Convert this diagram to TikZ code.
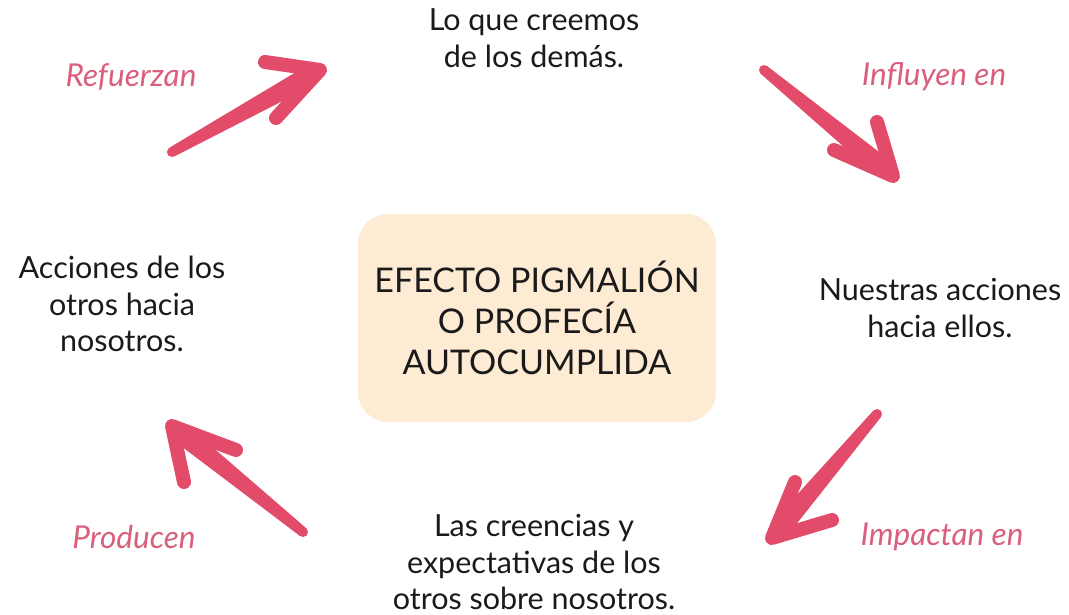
\documentclass[tikz,border=0pt]{standalone}
\usepackage{fontspec}
\usetikzlibrary{calc}
\setmainfont{Lato}
\definecolor{arrowred}{HTML}{E24B69}
\definecolor{labelpink}{HTML}{DA5F7C}
\definecolor{boxfill}{HTML}{FDEBD4}
\definecolor{txt}{HTML}{1A1A1A}
\newcommand\brushshaft[2]{%
  \coordinate (bsw) at ($(#1)!0.9!(#2)$);
  \fill[arrowred] ($(#1)!5pt!90:(#2)$) -- ($(bsw)!10pt!-90:(#1)$) -- (#2) -- ($(bsw)!10pt!90:(#1)$) -- ($(#1)!5pt!-90:(#2)$) -- cycle;
  \fill[arrowred] (#1) circle[radius=5pt];}
\begin{document}
\begin{tikzpicture}[x=1pt,y=-1pt,
  body/.style={font=\fontsize{30.5}{36.5}\selectfont, text=txt, align=center},
  lab/.style={font=\fontsize{31.5}{36}\selectfont\itshape, text=labelpink},
  barb/.style={draw=arrowred, line width=14pt, line cap=round, line join=round},
  centerbox/.style={fill=boxfill, rounded corners=30pt, minimum width=358pt, minimum height=208pt, align=center, font=\fontsize{34}{41}\selectfont, text=txt}
]
\useasboundingbox (0,0) rectangle (1069,614);
\node[centerbox] (center) at (537,318) {EFECTO PIGMALIÓN\\O PROFECÍA\\AUTOCUMPLIDA};
\node[body] (top) at (534,38) {Lo que creemos\\de los demás.};
\node[body] (right) at (940,308) {Nuestras acciones\\hacia ellos.};
\node[body] (left) at (122,304) {Acciones de los\\otros hacia\\nosotros.};
\node[body] (bottom) at (534,562) {Las creencias y\\expectativas de los\\otros sobre nosotros.};
\node[lab] (l1) at (131,77) {Refuerzan};
\node[lab] (l2) at (934,77) {Influyen en};
\node[lab] (l3) at (134,537) {Producen};
\node[lab] (l4) at (942,537) {Impactan en};
% arrow 1
\coordinate (a1s) at (172,152);
\coordinate (a1t) at (320,70);
\coordinate (a1b1) at (265,62);
\coordinate (a1b2) at (276,118);
\brushshaft{a1s}{a1t}
\draw[barb] (a1b1) -- (a1t) -- (a1b2);
% arrow 2
\coordinate (a2s) at (764,70);
\coordinate (a2t) at (893,176);
\coordinate (a2b1) at (877,122);
\coordinate (a2b2) at (834,150);
\brushshaft{a2s}{a2t}
\draw[barb] (a2b1) -- (a2t) -- (a2b2);
% arrow 3
\coordinate (a3s) at (877,414);
\coordinate (a3t) at (772,538);
\coordinate (a3b1) at (795,482);
\coordinate (a3b2) at (832,520);
\brushshaft{a3s}{a3t}
\draw[barb] (a3b1) -- (a3t) -- (a3b2);
% arrow 4
\coordinate (a4s) at (303,532);
\coordinate (a4t) at (172,426);
\coordinate (a4b1) at (236,450);
\coordinate (a4b2) at (184,482);
\brushshaft{a4s}{a4t}
\draw[barb] (a4b1) -- (a4t) -- (a4b2);
\end{tikzpicture}
\end{document}
